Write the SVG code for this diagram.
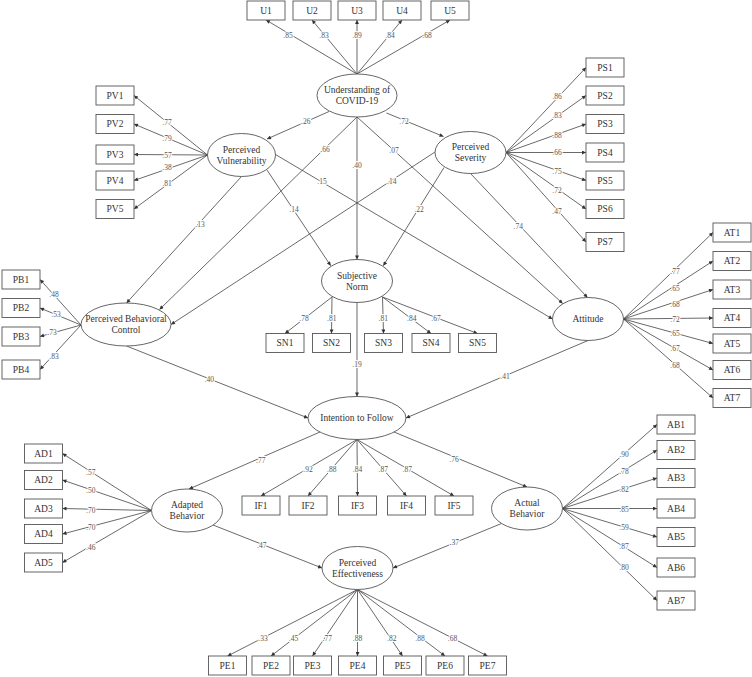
<svg xmlns="http://www.w3.org/2000/svg" width="752" height="677" viewBox="0 0 752 677">
<style>
.bx{fill:#fff;stroke:#555;stroke-width:0.9}
.el{fill:#fff;stroke:#555;stroke-width:0.9}
.t{font-family:"Liberation Serif","Times New Roman",serif;font-size:9.5px;fill:#333;text-anchor:middle}
.lb{font-family:"Liberation Serif","Times New Roman",serif;font-size:7.5px;fill:#555;text-anchor:middle;stroke:#fff;stroke-width:2.2px;paint-order:stroke;stroke-linejoin:round}
.c line{stroke:#444;stroke-width:0.8;marker-end:url(#ah)}
</style>
<defs>
<marker id="ah" viewBox="0 0 10 10" refX="10" refY="5" markerWidth="5" markerHeight="4" orient="auto" markerUnits="userSpaceOnUse"><path d="M0,0 L10,5 L0,10 z" fill="#333"/></marker>
</defs>
<rect width="752" height="677" fill="#fff"/>
<g id="connectors" class="c">
<!-- Understanding measurement -->
<line x1="357" y1="74" x2="266" y2="20"/>
<line x1="357" y1="74" x2="312" y2="20"/>
<line x1="357" y1="74" x2="357" y2="20"/>
<line x1="357" y1="74" x2="402" y2="20"/>
<line x1="357" y1="74" x2="450" y2="20"/>
<!-- PV measurement -->
<line x1="207.5" y1="155" x2="134" y2="95.5"/>
<line x1="207.5" y1="155" x2="134" y2="124"/>
<line x1="207.5" y1="155" x2="134" y2="154.5"/>
<line x1="207.5" y1="155" x2="134" y2="180.5"/>
<line x1="207.5" y1="155" x2="134" y2="209"/>
<!-- PS measurement -->
<line x1="506" y1="152.5" x2="586" y2="67.5"/>
<line x1="506" y1="152.5" x2="586" y2="95.5"/>
<line x1="506" y1="152.5" x2="586" y2="124"/>
<line x1="506" y1="152.5" x2="586" y2="152.5"/>
<line x1="506" y1="152.5" x2="586" y2="180.5"/>
<line x1="506" y1="152.5" x2="586" y2="209"/>
<line x1="506" y1="152.5" x2="586" y2="242"/>
<!-- AT measurement -->
<line x1="623.5" y1="319" x2="713" y2="232.5"/>
<line x1="623.5" y1="319" x2="713" y2="261"/>
<line x1="623.5" y1="319" x2="713" y2="289.5"/>
<line x1="623.5" y1="319" x2="713" y2="318"/>
<line x1="623.5" y1="319" x2="713" y2="343.5"/>
<line x1="623.5" y1="319" x2="713" y2="370"/>
<line x1="623.5" y1="319" x2="713" y2="398"/>
<!-- PB measurement -->
<line x1="81" y1="325" x2="40" y2="279.5"/>
<line x1="81" y1="325" x2="40" y2="308"/>
<line x1="81" y1="325" x2="40" y2="336.5"/>
<line x1="81" y1="325" x2="40" y2="369.5"/>
<!-- SN measurement -->
<line x1="332" y1="297" x2="285" y2="333.5"/>
<line x1="332" y1="297" x2="331.5" y2="333.5"/>
<line x1="382.5" y1="297" x2="383.5" y2="333.5"/>
<line x1="382.5" y1="297" x2="431" y2="333.5"/>
<line x1="382.5" y1="297" x2="477.5" y2="333.5"/>
<!-- IF measurement -->
<line x1="357" y1="439.5" x2="261" y2="496"/>
<line x1="357" y1="439.5" x2="308" y2="496"/>
<line x1="357" y1="439.5" x2="357.5" y2="496"/>
<line x1="357" y1="439.5" x2="406.5" y2="496"/>
<line x1="357" y1="439.5" x2="454" y2="496"/>
<!-- AD measurement -->
<line x1="151.5" y1="510.5" x2="62.5" y2="453.5"/>
<line x1="151.5" y1="510.5" x2="62.5" y2="480"/>
<line x1="151.5" y1="510.5" x2="62.5" y2="508.5"/>
<line x1="151.5" y1="510.5" x2="62.5" y2="534"/>
<line x1="151.5" y1="510.5" x2="62.5" y2="562.5"/>
<!-- AB measurement -->
<line x1="562.5" y1="508.5" x2="657" y2="424.5"/>
<line x1="562.5" y1="508.5" x2="657" y2="450"/>
<line x1="562.5" y1="508.5" x2="657" y2="478"/>
<line x1="562.5" y1="508.5" x2="657" y2="508.5"/>
<line x1="562.5" y1="508.5" x2="657" y2="537"/>
<line x1="562.5" y1="508.5" x2="657" y2="567.5"/>
<line x1="562.5" y1="508.5" x2="657" y2="600.5"/>
<!-- PE measurement -->
<line x1="357.5" y1="589.5" x2="227.5" y2="656"/>
<line x1="357.5" y1="589.5" x2="271" y2="656"/>
<line x1="357.5" y1="589.5" x2="312.5" y2="656"/>
<line x1="357.5" y1="589.5" x2="357.5" y2="656"/>
<line x1="357.5" y1="589.5" x2="402.5" y2="656"/>
<line x1="357.5" y1="589.5" x2="445" y2="656"/>
<line x1="357.5" y1="589.5" x2="487.5" y2="656"/>
<!-- structural -->
<line x1="329" y1="111.5" x2="267" y2="139"/>
<line x1="386.5" y1="113" x2="443.5" y2="136.5"/>
<line x1="357" y1="117" x2="159.5" y2="309.5"/>
<line x1="357" y1="117" x2="357" y2="259.5"/>
<line x1="357" y1="117" x2="562.7" y2="303.5"/>
<line x1="241.5" y1="176.5" x2="126.5" y2="303"/>
<line x1="267" y1="170" x2="330.7" y2="265.7"/>
<line x1="275.5" y1="154.5" x2="552.5" y2="319"/>
<line x1="435" y1="152" x2="171" y2="324.5"/>
<line x1="444" y1="167.5" x2="383.3" y2="265.7"/>
<line x1="470.5" y1="173.5" x2="587.5" y2="297.5"/>
<line x1="126.5" y1="346" x2="308" y2="418"/>
<line x1="357" y1="302.5" x2="357" y2="396.5"/>
<line x1="588" y1="340.5" x2="406" y2="418"/>
<line x1="320" y1="432" x2="189" y2="489"/>
<line x1="394" y1="432" x2="527" y2="487"/>
<line x1="213" y1="525" x2="322" y2="568"/>
<line x1="501.5" y1="523.5" x2="393" y2="568"/>
</g>
<g id="labels">
<text class="lb" x="288" y="37.5">.85</text>
<text class="lb" x="324" y="37.5">.83</text>
<text class="lb" x="357" y="37.5">.89</text>
<text class="lb" x="390" y="37.5">.84</text>
<text class="lb" x="427" y="37.5">.68</text>
<text class="lb" x="167" y="125">.77</text>
<text class="lb" x="167" y="140.5">.79</text>
<text class="lb" x="167" y="157.5">.57</text>
<text class="lb" x="167" y="170">.38</text>
<text class="lb" x="167" y="186">.81</text>
<text class="lb" x="557" y="99">.86</text>
<text class="lb" x="557" y="118">.83</text>
<text class="lb" x="557" y="137.5">.88</text>
<text class="lb" x="557" y="155">.66</text>
<text class="lb" x="557" y="174">.75</text>
<text class="lb" x="557" y="192.5">.72</text>
<text class="lb" x="557" y="214">.47</text>
<text class="lb" x="675" y="274">.77</text>
<text class="lb" x="675" y="290.5">.65</text>
<text class="lb" x="675" y="306.5">.68</text>
<text class="lb" x="675" y="321.5">.72</text>
<text class="lb" x="675" y="335.5">.65</text>
<text class="lb" x="675" y="350.5">.67</text>
<text class="lb" x="675" y="368">.68</text>
<text class="lb" x="54" y="296.5">.48</text>
<text class="lb" x="56" y="316.5">.53</text>
<text class="lb" x="52" y="334.5">.73</text>
<text class="lb" x="54" y="358.5">.83</text>
<text class="lb" x="304" y="320.5">.78</text>
<text class="lb" x="331.7" y="320.5">.81</text>
<text class="lb" x="383.3" y="320.5">.81</text>
<text class="lb" x="411.7" y="320.5">.84</text>
<text class="lb" x="436" y="320.5">.67</text>
<text class="lb" x="308" y="471.5">.92</text>
<text class="lb" x="331.7" y="471.5">.88</text>
<text class="lb" x="357.5" y="471.5">.84</text>
<text class="lb" x="383.3" y="471.5">.87</text>
<text class="lb" x="407.3" y="471.5">.87</text>
<text class="lb" x="90.7" y="474.5">.57</text>
<text class="lb" x="90.7" y="492.5">.50</text>
<text class="lb" x="90.7" y="512.5">.70</text>
<text class="lb" x="90.7" y="529.5">.70</text>
<text class="lb" x="90.7" y="549.5">.46</text>
<text class="lb" x="624" y="456.5">.90</text>
<text class="lb" x="624" y="474">.78</text>
<text class="lb" x="624" y="492">.82</text>
<text class="lb" x="624" y="511.5">.85</text>
<text class="lb" x="624" y="529.5">.59</text>
<text class="lb" x="624" y="549">.87</text>
<text class="lb" x="624" y="570">.80</text>
<text class="lb" x="263" y="640.5">.33</text>
<text class="lb" x="293.5" y="640.5">.45</text>
<text class="lb" x="327.3" y="640.5">.77</text>
<text class="lb" x="357.5" y="640.5">.88</text>
<text class="lb" x="391.7" y="640.5">.82</text>
<text class="lb" x="420" y="640.5">.88</text>
<text class="lb" x="452.5" y="640.5">.68</text>
<text class="lb" x="305.7" y="124">.26</text>
<text class="lb" x="404" y="123.5">.72</text>
<text class="lb" x="325" y="152">.66</text>
<text class="lb" x="357" y="167.5">.40</text>
<text class="lb" x="394" y="152.5">.07</text>
<text class="lb" x="200" y="226.5">.13</text>
<text class="lb" x="294" y="211.5">.14</text>
<text class="lb" x="322" y="183.5">.15</text>
<text class="lb" x="391.7" y="183.5">.14</text>
<text class="lb" x="419" y="211.5">.22</text>
<text class="lb" x="518.3" y="228.5">.74</text>
<text class="lb" x="209.3" y="381.5">.40</text>
<text class="lb" x="357" y="366.5">.19</text>
<text class="lb" x="505" y="378.5">.41</text>
<text class="lb" x="260.7" y="462.5">.77</text>
<text class="lb" x="454" y="461.5">.76</text>
<text class="lb" x="261.7" y="547.5">.47</text>
<text class="lb" x="454.3" y="545">.37</text>
</g>
<g id="U1"><rect class="bx" x="247" y="1" width="38" height="19"/><text class="t" x="266" y="13.8">U1</text></g>
<g id="U2"><rect class="bx" x="293" y="1" width="38" height="19"/><text class="t" x="312" y="13.8">U2</text></g>
<g id="U3"><rect class="bx" x="338" y="1" width="38" height="19"/><text class="t" x="357" y="13.8">U3</text></g>
<g id="U4"><rect class="bx" x="383" y="1" width="38" height="19"/><text class="t" x="402" y="13.8">U4</text></g>
<g id="U5"><rect class="bx" x="431" y="1" width="38" height="19"/><text class="t" x="450" y="13.8">U5</text></g>
<g id="PV1"><rect class="bx" x="96" y="86" width="38" height="19"/><text class="t" x="115" y="98.8">PV1</text></g>
<g id="PV2"><rect class="bx" x="96" y="114.5" width="38" height="19"/><text class="t" x="115" y="127.3">PV2</text></g>
<g id="PV3"><rect class="bx" x="96" y="145" width="38" height="19"/><text class="t" x="115" y="157.8">PV3</text></g>
<g id="PV4"><rect class="bx" x="96" y="171" width="38" height="19"/><text class="t" x="115" y="183.8">PV4</text></g>
<g id="PV5"><rect class="bx" x="96" y="199.5" width="38" height="19"/><text class="t" x="115" y="212.3">PV5</text></g>
<g id="PS1"><rect class="bx" x="586" y="58" width="38" height="19"/><text class="t" x="605" y="70.8">PS1</text></g>
<g id="PS2"><rect class="bx" x="586" y="86" width="38" height="19"/><text class="t" x="605" y="98.8">PS2</text></g>
<g id="PS3"><rect class="bx" x="586" y="114.5" width="38" height="19"/><text class="t" x="605" y="127.3">PS3</text></g>
<g id="PS4"><rect class="bx" x="586" y="143" width="38" height="19"/><text class="t" x="605" y="155.8">PS4</text></g>
<g id="PS5"><rect class="bx" x="586" y="171" width="38" height="19"/><text class="t" x="605" y="183.8">PS5</text></g>
<g id="PS6"><rect class="bx" x="586" y="199.5" width="38" height="19"/><text class="t" x="605" y="212.3">PS6</text></g>
<g id="PS7"><rect class="bx" x="586" y="232.5" width="38" height="19"/><text class="t" x="605" y="245.3">PS7</text></g>
<g id="AT1"><rect class="bx" x="713" y="223" width="38" height="19"/><text class="t" x="732" y="235.8">AT1</text></g>
<g id="AT2"><rect class="bx" x="713" y="251.5" width="38" height="19"/><text class="t" x="732" y="264.3">AT2</text></g>
<g id="AT3"><rect class="bx" x="713" y="280" width="38" height="19"/><text class="t" x="732" y="292.8">AT3</text></g>
<g id="AT4"><rect class="bx" x="713" y="308.5" width="38" height="19"/><text class="t" x="732" y="321.3">AT4</text></g>
<g id="AT5"><rect class="bx" x="713" y="334" width="38" height="19"/><text class="t" x="732" y="346.8">AT5</text></g>
<g id="AT6"><rect class="bx" x="713" y="360.5" width="38" height="19"/><text class="t" x="732" y="373.3">AT6</text></g>
<g id="AT7"><rect class="bx" x="713" y="388.5" width="38" height="19"/><text class="t" x="732" y="401.3">AT7</text></g>
<g id="PB1"><rect class="bx" x="2" y="270" width="38" height="19"/><text class="t" x="21" y="282.8">PB1</text></g>
<g id="PB2"><rect class="bx" x="2" y="298.5" width="38" height="19"/><text class="t" x="21" y="311.3">PB2</text></g>
<g id="PB3"><rect class="bx" x="2" y="327" width="38" height="19"/><text class="t" x="21" y="339.8">PB3</text></g>
<g id="PB4"><rect class="bx" x="2" y="360" width="38" height="19"/><text class="t" x="21" y="372.8">PB4</text></g>
<g id="SN1"><rect class="bx" x="266" y="333.5" width="38" height="19"/><text class="t" x="285" y="346.3">SN1</text></g>
<g id="SN2"><rect class="bx" x="312.5" y="333.5" width="38" height="19"/><text class="t" x="331.5" y="346.3">SN2</text></g>
<g id="SN3"><rect class="bx" x="364.5" y="333.5" width="38" height="19"/><text class="t" x="383.5" y="346.3">SN3</text></g>
<g id="SN4"><rect class="bx" x="412" y="333.5" width="38" height="19"/><text class="t" x="431" y="346.3">SN4</text></g>
<g id="SN5"><rect class="bx" x="458.5" y="333.5" width="38" height="19"/><text class="t" x="477.5" y="346.3">SN5</text></g>
<g id="IF1"><rect class="bx" x="242" y="496" width="38" height="19"/><text class="t" x="261" y="508.8">IF1</text></g>
<g id="IF2"><rect class="bx" x="289" y="496" width="38" height="19"/><text class="t" x="308" y="508.8">IF2</text></g>
<g id="IF3"><rect class="bx" x="338.5" y="496" width="38" height="19"/><text class="t" x="357.5" y="508.8">IF3</text></g>
<g id="IF4"><rect class="bx" x="387.5" y="496" width="38" height="19"/><text class="t" x="406.5" y="508.8">IF4</text></g>
<g id="IF5"><rect class="bx" x="435" y="496" width="38" height="19"/><text class="t" x="454" y="508.8">IF5</text></g>
<g id="AD1"><rect class="bx" x="24.5" y="444" width="38" height="19"/><text class="t" x="43.5" y="456.8">AD1</text></g>
<g id="AD2"><rect class="bx" x="24.5" y="470.5" width="38" height="19"/><text class="t" x="43.5" y="483.3">AD2</text></g>
<g id="AD3"><rect class="bx" x="24.5" y="499" width="38" height="19"/><text class="t" x="43.5" y="511.8">AD3</text></g>
<g id="AD4"><rect class="bx" x="24.5" y="524.5" width="38" height="19"/><text class="t" x="43.5" y="537.3">AD4</text></g>
<g id="AD5"><rect class="bx" x="24.5" y="553" width="38" height="19"/><text class="t" x="43.5" y="565.8">AD5</text></g>
<g id="AB1"><rect class="bx" x="657" y="415" width="38" height="19"/><text class="t" x="676" y="427.8">AB1</text></g>
<g id="AB2"><rect class="bx" x="657" y="440.5" width="38" height="19"/><text class="t" x="676" y="453.3">AB2</text></g>
<g id="AB3"><rect class="bx" x="657" y="468.5" width="38" height="19"/><text class="t" x="676" y="481.3">AB3</text></g>
<g id="AB4"><rect class="bx" x="657" y="499" width="38" height="19"/><text class="t" x="676" y="511.8">AB4</text></g>
<g id="AB5"><rect class="bx" x="657" y="527.5" width="38" height="19"/><text class="t" x="676" y="540.3">AB5</text></g>
<g id="AB6"><rect class="bx" x="657" y="558" width="38" height="19"/><text class="t" x="676" y="570.8">AB6</text></g>
<g id="AB7"><rect class="bx" x="657" y="591" width="38" height="19"/><text class="t" x="676" y="603.8">AB7</text></g>
<g id="PE1"><rect class="bx" x="208.5" y="656" width="38" height="19"/><text class="t" x="227.5" y="668.8">PE1</text></g>
<g id="PE2"><rect class="bx" x="252" y="656" width="38" height="19"/><text class="t" x="271" y="668.8">PE2</text></g>
<g id="PE3"><rect class="bx" x="293.5" y="656" width="38" height="19"/><text class="t" x="312.5" y="668.8">PE3</text></g>
<g id="PE4"><rect class="bx" x="338.5" y="656" width="38" height="19"/><text class="t" x="357.5" y="668.8">PE4</text></g>
<g id="PE5"><rect class="bx" x="383.5" y="656" width="38" height="19"/><text class="t" x="402.5" y="668.8">PE5</text></g>
<g id="PE6"><rect class="bx" x="426" y="656" width="38" height="19"/><text class="t" x="445" y="668.8">PE6</text></g>
<g id="PE7"><rect class="bx" x="468.5" y="656" width="38" height="19"/><text class="t" x="487.5" y="668.8">PE7</text></g>
<g id="Understanding"><ellipse class="el" cx="357" cy="95.5" rx="40" ry="21.5"/><text class="t" x="357" y="93.3">Understanding of</text><text class="t" x="357" y="104.3">COVID-19</text></g>
<g id="PerceivedVulnerability"><ellipse class="el" cx="241.5" cy="155" rx="34" ry="21.5"/><text class="t" x="241.5" y="152.8">Perceived</text><text class="t" x="241.5" y="163.8">Vulnerability</text></g>
<g id="PerceivedSeverity"><ellipse class="el" cx="470.5" cy="152.5" rx="35.5" ry="21"/><text class="t" x="470.5" y="150.3">Perceived</text><text class="t" x="470.5" y="161.3">Severity</text></g>
<g id="PBC"><ellipse class="el" cx="126" cy="324.5" rx="45" ry="21.5"/><text class="t" x="126" y="322.3">Perceived Behavioral</text><text class="t" x="126" y="333.3">Control</text></g>
<g id="SubjectiveNorm"><ellipse class="el" cx="357" cy="281" rx="35.5" ry="21.5"/><text class="t" x="357" y="278.8">Subjective</text><text class="t" x="357" y="289.8">Norm</text></g>
<g id="Attitude"><ellipse class="el" cx="588" cy="319" rx="35.5" ry="21.5"/><text class="t" x="588" y="322.3">Attitude</text></g>
<g id="Intention"><ellipse class="el" cx="357" cy="418" rx="49" ry="21.5"/><text class="t" x="357" y="421.3">Intention to Follow</text></g>
<g id="AdaptedBehavior"><ellipse class="el" cx="187" cy="510.5" rx="35.5" ry="21.5"/><text class="t" x="187" y="508.3">Adapted</text><text class="t" x="187" y="519.3">Behavior</text></g>
<g id="ActualBehavior"><ellipse class="el" cx="527" cy="508.5" rx="35.5" ry="21.5"/><text class="t" x="527" y="506.3">Actual</text><text class="t" x="527" y="517.3">Behavior</text></g>
<g id="PerceivedEffectiveness"><ellipse class="el" cx="357.5" cy="568" rx="35.5" ry="21.5"/><text class="t" x="357.5" y="565.8">Perceived</text><text class="t" x="357.5" y="576.8">Effectiveness</text></g>
</svg>
